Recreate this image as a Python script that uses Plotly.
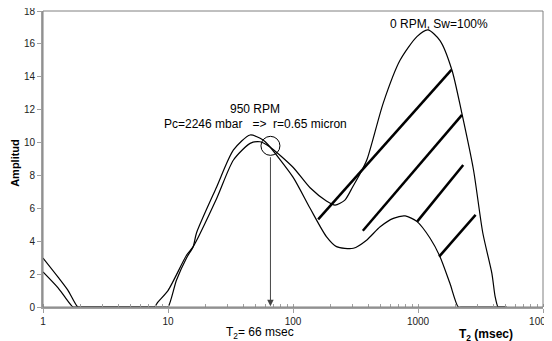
import plotly.graph_objects as go
import math

# ---- data ----
t2_0rpm = [1, 1.32, 1.58, 1.9, 2.05, 7.5, 7.8, 8.3, 10.0, 14.1, 15.9, 24.5, 33.4, 45.4, 54.5, 65,
           100, 137, 185, 217, 260, 300, 344, 390, 527, 718, 980, 1200, 1500, 1870, 2240,
           2780, 3300, 3900, 4140, 4370, 4550, 5100]
amp_0rpm = [2.98, 1.82, 1.03, 0, 0, 0, 0, 0.3, 1.0, 3.16, 3.67, 6.6, 8.94, 9.95, 10.05, 9.75,
            8.5, 7.25, 6.45, 6.2, 6.5, 7.3, 8.1, 8.95, 12.4, 15.0, 16.44, 16.85, 16.2, 14.4, 11.8,
            8.33, 4.5, 2.05, 0.63, 0, 0, 0]

t2_950rpm = [1, 1.32, 1.5, 1.74, 1.85, 9.4, 10.0, 11.7, 14.1, 15.9, 16.9, 24.5, 33.4, 45.4, 57.6, 63.5,
             100, 137, 185, 223, 304, 390, 498, 635, 790, 983, 1250, 1500, 1800, 2100, 2250, 5100]
amp_950rpm = [2.13, 1.16, 0.6, 0, 0, 0, 0, 1.64, 3.0, 3.67, 4.5, 7.3, 9.55, 10.46, 10.16, 9.85,
              7.9, 6.0, 4.28, 3.67, 3.57, 4.08, 4.88, 5.39, 5.54, 5.19, 4.18, 3.06, 1.44, 0, 0, 0]

# hatch segments (start, end) in data units
hatch_x0 = [159, 362, 984, 1475]
hatch_y0 = [5.33, 4.64, 5.19, 3.06]
hatch_x1 = [1850, 2250, 2300, 2890]
hatch_y1 = [14.42, 11.68, 8.64, 5.6]

cutoff_t2 = 66
cutoff_amp = 9.8

x_tickvals = [1, 10, 100, 1000, 10000]
x_ticktext = ["1", "10", "100", "1000", "10000"]
y_tickvals = list(range(0, 19, 2))

FONT = "Liberation Sans, Arial, sans-serif"
AXIS_GRAY = "#a0a0a0"

fig = go.Figure()

fig.add_trace(go.Scatter(x=t2_0rpm, y=amp_0rpm, mode="lines",
                         line=dict(color="black", width=1.2, shape="spline", smoothing=0.7),
                         showlegend=False, hoverinfo="skip"))
fig.add_trace(go.Scatter(x=t2_950rpm, y=amp_950rpm, mode="lines",
                         line=dict(color="black", width=1.2, shape="spline", smoothing=0.7),
                         showlegend=False, hoverinfo="skip"))

hx, hy = [], []
for a, b, c, d in zip(hatch_x0, hatch_y0, hatch_x1, hatch_y1):
    hx += [a, c, None]
    hy += [b, d, None]
fig.add_trace(go.Scatter(x=hx, y=hy, mode="lines", line=dict(color="black", width=2.5),
                         showlegend=False, hoverinfo="skip"))

# circle marking the cutoff
fig.add_trace(go.Scatter(x=[cutoff_t2], y=[cutoff_amp], mode="markers",
                         marker=dict(symbol="circle-open", size=19,
                                     line=dict(color="black", width=1), color="black"),
                         showlegend=False, hoverinfo="skip"))

lx = math.log10(cutoff_t2)
txt = dict(family=FONT, size=12, color="black")
annotations = [
    # arrow
    dict(x=lx, y=0.05, ax=lx, ay=cutoff_amp - 0.6, xref="x", yref="y", axref="x", ayref="y",
         text="", showarrow=True, arrowhead=2, arrowsize=1.3, arrowwidth=1, arrowcolor="#444"),
    dict(x=1.696, y=12.04, xref="x", yref="y", text="950 RPM", showarrow=False,
         xanchor="center", yanchor="middle", font=txt),
    dict(x=1.696, y=11.13, xref="x", yref="y",
         text="Pc=2246 mbar\u00a0\u00a0\u00a0=>\u00a0\u00a0r=0.65 micron", showarrow=False,
         xanchor="center", yanchor="middle", font=txt),
    dict(x=3.166, y=17.2, xref="x", yref="y", text="0 RPM, Sw=100%", showarrow=False,
         xanchor="center", yanchor="middle", font=txt),
    dict(x=1.736, y=-0.087, xref="x", yref="paper", text="T<sub>2</sub>= 66 msec",
         xanchor="center", yanchor="middle", showarrow=False, font=txt),
    dict(x=3.544, y=-0.095, xref="x", yref="paper", text="<b>T<sub>2</sub> (msec)</b>",
         xanchor="center", yanchor="middle", showarrow=False, font=txt),
    dict(x=-0.056, y=0.487, xref="paper", yref="paper", text="<b>Amplitud</b>",
         xanchor="center", yanchor="middle",
         textangle=-90, showarrow=False, font=dict(family=FONT, size=11, color="black")),
]

# page has an 8px body margin; size the figure so the plot area lands where the reference has it
fig.update_layout(
    width=544, height=333,
    margin=dict(l=35, r=9, t=3, b=34, autoexpand=False),
    paper_bgcolor="white", plot_bgcolor="white",
    annotations=annotations,
    shapes=[dict(type="rect", xref="paper", yref="paper", x0=0, x1=1, y0=0, y1=1,
                 line=dict(color="#808080", width=1), layer="above")],
    font=dict(family=FONT, size=10, color="#222"),
)

fig.update_xaxes(type="log", range=[0, 4], tickvals=x_tickvals, ticktext=x_ticktext,
                 automargin=False,
                 showgrid=False, zeroline=False, showline=True, linecolor=AXIS_GRAY, linewidth=2,
                 ticks="outside", ticklen=4, tickcolor=AXIS_GRAY, tickwidth=1,
                 ticklabeloverflow="allow",
                 minor=dict(ticks="inside", ticklen=3, tickcolor=AXIS_GRAY, dtick="D1", showgrid=False),
                 tickfont=dict(family=FONT, size=10, color="#222"))
fig.update_yaxes(range=[0, 18], tickvals=y_tickvals, showgrid=False, zeroline=False,
                 automargin=False,
                 showline=True, linecolor=AXIS_GRAY, linewidth=2,
                 ticks="outside", ticklen=4, tickcolor=AXIS_GRAY, tickwidth=1,
                 ticklabeloverflow="allow",
                 tickfont=dict(family=FONT, size=10, color="#222"))

fig.write_html("out.html")
